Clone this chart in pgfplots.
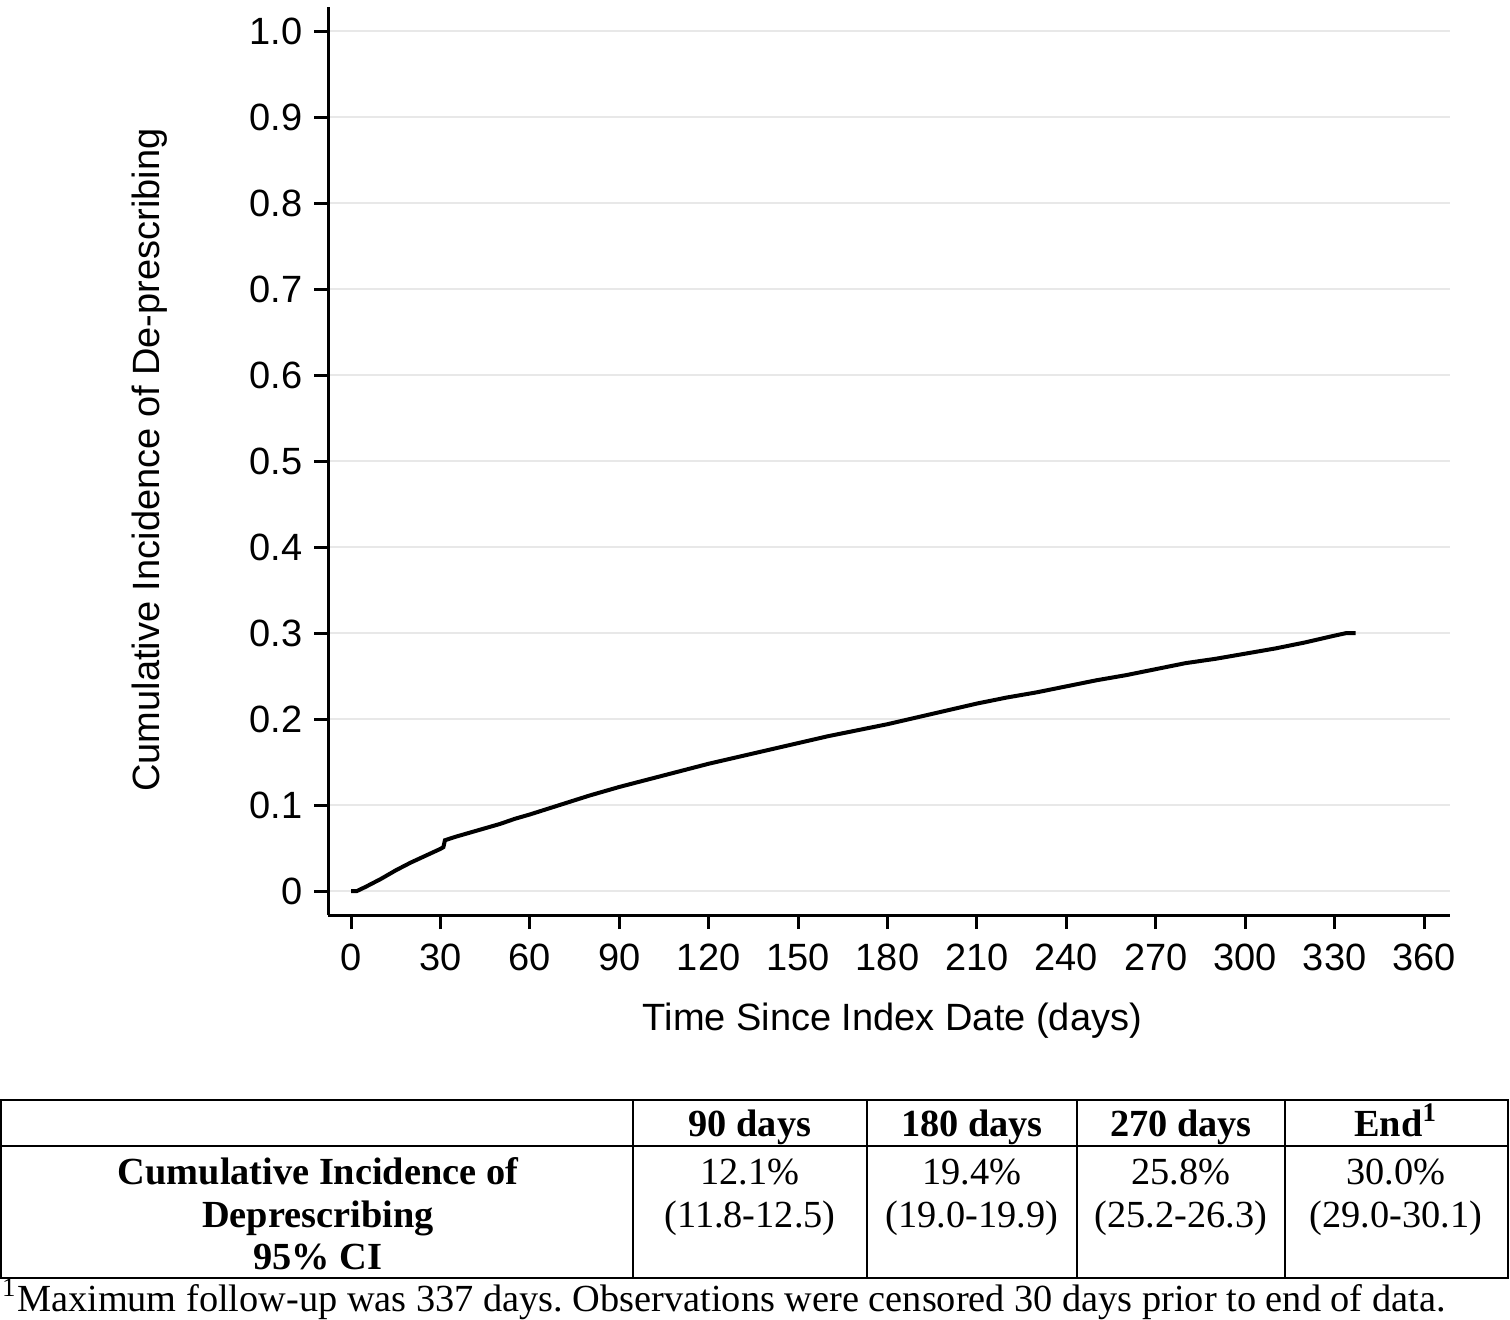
\documentclass[border=0pt]{standalone}
\usepackage{fontspec}
\setmainfont{Liberation Serif}
\newfontfamily\arial{Liberation Sans}
\usepackage{pgfplots}
\pgfplotsset{compat=1.18}
\definecolor{gridgray}{RGB}{232,232,232}
\frenchspacing

\begin{document}
\begin{tikzpicture}
\path[use as bounding box] (0,0) rectangle (453pt,-396pt);
\begin{axis}[
    at={(98.4pt,-274.5pt)}, anchor=south west,
    scale only axis, width=336.6pt, height=272.4pt,
    xmin=-7.72, xmax=368.7, ymin=-0.0279, ymax=1.028,
    axis lines=left,
    axis line style={-, line width=0.9pt},
    xtick={0,30,60,90,120,150,180,210,240,270,300,330,360},
    ytick={0,0.1,0.2,0.3,0.4,0.5,0.6,0.7,0.8,0.9,1.0},
    yticklabels={0,0.1,0.2,0.3,0.4,0.5,0.6,0.7,0.8,0.9,1.0},
    tick align=outside,
    major tick length=4.2pt,
    tick style={line width=0.9pt, black},
    ymajorgrids,
    grid style={gridgray, line width=0.6pt},
    /pgf/number format/assume math mode=true,
    tick label style={font=\arial\fontsize{11.4}{13}\selectfont},
    xticklabel style={yshift=-0.9pt},
    label style={font=\arial\fontsize{11.4}{13}\selectfont},
    xlabel={Time Since Index Date (days)},
    ylabel={Cumulative Incidence of De-prescribing},
    xlabel style={at={(axis description cs:0.503,-0.1167)}, anchor=center},
    ylabel style={at={(axis description cs:-0.1586,0.501)}, anchor=center},
]
\addplot[black, line width=1.2pt] coordinates {
(0,0) (2,0) (5,0.005) (10,0.014) (15,0.024) (20,0.033) (25,0.041)
(30,0.049) (31,0.051) (31.5,0.059) (35,0.063) (40,0.068) (45,0.073)
(50,0.078) (55,0.084) (60,0.089) (70,0.100) (80,0.111) (90,0.121)
(100,0.130) (110,0.139) (120,0.148) (130,0.156) (140,0.164) (150,0.172)
(160,0.180) (170,0.187) (180,0.194) (190,0.202) (200,0.210) (210,0.218)
(220,0.225) (230,0.231) (240,0.238) (250,0.245) (260,0.251) (270,0.258)
(280,0.265) (290,0.270) (300,0.276) (310,0.282) (320,0.289) (330,0.297)
(334,0.300) (337,0.300)
};
\end{axis}

% table under the plot, laid out in pixel units of the reference
\begin{scope}[x=0.3pt, y=-0.3pt, line width=0.6pt]
\draw (1,1100) rectangle (1508,1278);
\draw (1,1146) -- (1508,1146);
\foreach \c in {633,867,1077,1285} \draw (\c,1100) -- (\c,1278);
\begin{scope}[every node/.style={anchor=base, inner sep=0pt, font=\fontsize{11.5}{13}\selectfont}]
\node[font=\bfseries\fontsize{11.5}{13}\selectfont] at (750,1136) {90 days};
\node[font=\bfseries\fontsize{11.5}{13}\selectfont] at (972,1136) {180 days};
\node[font=\bfseries\fontsize{11.5}{13}\selectfont] at (1181,1136) {270 days};
\node[font=\bfseries\fontsize{11.5}{13}\selectfont] at (1396,1136) {End\textsuperscript{1}};
\node[font=\bfseries\fontsize{11.5}{13}\selectfont] at (318,1184) {Cumulative Incidence of};
\node[font=\bfseries\fontsize{11.5}{13}\selectfont] at (318,1227) {Deprescribing};
\node[font=\bfseries\fontsize{11.5}{13}\selectfont] at (318,1269) {95\% CI};
\node at (750,1184) {12.1\%};
\node at (750,1227) {(11.8-12.5)};
\node at (972,1184) {19.4\%};
\node at (972,1227) {(19.0-19.9)};
\node at (1181,1184) {25.8\%};
\node at (1181,1227) {(25.2-26.3)};
\node at (1396,1184) {30.0\%};
\node at (1396,1227) {(29.0-30.1)};
\node[anchor=base west] at (1,1311) {\textsuperscript{1}Maximum follow-up was 337 days. Observations were censored 30 days prior to end of data.};
\end{scope}
\end{scope}
\end{tikzpicture}
\end{document}
